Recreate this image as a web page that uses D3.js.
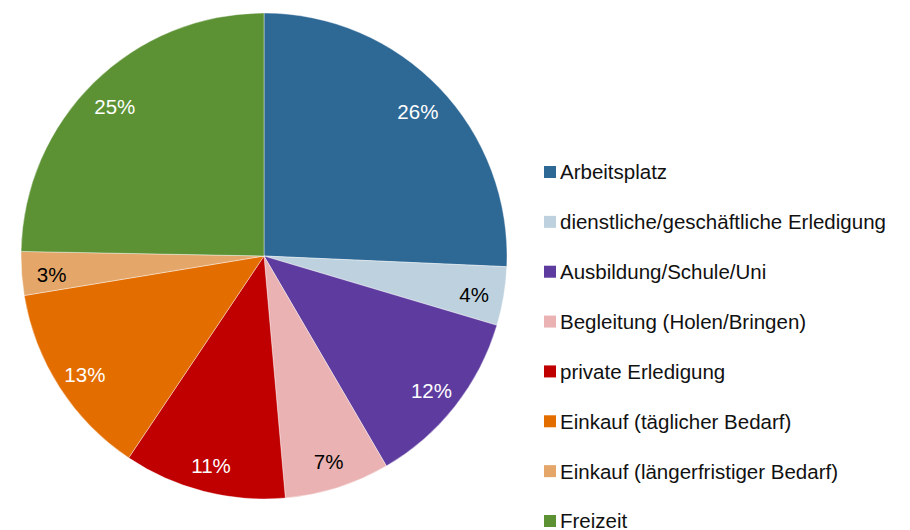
<!DOCTYPE html>
<head>
    <meta charset="utf-8" />
    <title>Wegezwecke</title>
    <script src="https://d3js.org/d3.v7.min.js"></script>
    <style>
        body { margin: 0; background: #fff; }
        svg text { font-family: "Liberation Sans", Arial, sans-serif; }
    </style>
</head>
<body>
<svg width="910" height="530"></svg>

<script>
    // data (share of trips, percent)
    let categories = ["Arbeitsplatz", "dienstliche/geschäftliche Erledigung", "Ausbildung/Schule/Uni",
        "Begleitung (Holen/Bringen)", "private Erledigung", "Einkauf (täglicher Bedarf)",
        "Einkauf (längerfristiger Bedarf)", "Freizeit"];
    let values = [25.7, 3.9, 12.0, 7.0, 10.8, 13.0, 2.9, 24.7];
    let colors = ["#2E6895", "#BDD2DE", "#5E3C9F", "#EAB2B2", "#C00000", "#E46D00", "#E4A769", "#5C9234"];
    let labelColors = ["#fff", "#000", "#fff", "#000", "#fff", "#fff", "#000", "#fff"];

    let svg = d3.select("svg");
    let cx = 264, cy = 256, radius = 243;
    let total = d3.sum(values);

    let data = categories.map((c, i) => ({name: c, value: values[i], color: colors[i], label: labelColors[i]}));

    let pie = d3.pie().value(d => d.value).sort(null);
    let arc = d3.arc().innerRadius(0).outerRadius(radius);
    let labelArc = d3.arc().innerRadius(213).outerRadius(213);

    let g = svg.append("g").attr("transform", "translate(" + cx + "," + cy + ")");

    g.selectAll("path")
        .data(pie(data))
        .enter().append("path")
        .attr("d", arc)
        .attr("fill", d => d.data.color)
        .attr("stroke", "#fff")
        .attr("stroke-width", 0.4);

    g.selectAll("text")
        .data(pie(data))
        .enter().append("text")
        .attr("transform", d => "translate(" + labelArc.centroid(d) + ")")
        .attr("text-anchor", "middle")
        .attr("dy", "0.5em")
        .attr("font-size", 20.5)
        .attr("fill", d => d.data.label)
        .text(d => Math.round(d.data.value / total * 100) + "%");

    // legend
    let legY = d3.scalePoint().domain(categories).range([172, 521]);
    let legend = svg.append("g");
    let rows = legend.selectAll("g")
        .data(data)
        .enter().append("g")
        .attr("transform", d => "translate(544," + legY(d.name) + ")");

    rows.append("rect")
        .attr("x", 0).attr("y", -6)
        .attr("width", 12).attr("height", 12)
        .attr("fill", d => d.color);

    rows.append("text")
        .attr("x", 16)
        .attr("dy", "0.36em")
        .attr("font-size", 20.5)
        .attr("fill", "#111")
        .text(d => d.name);
</script>
</body>
